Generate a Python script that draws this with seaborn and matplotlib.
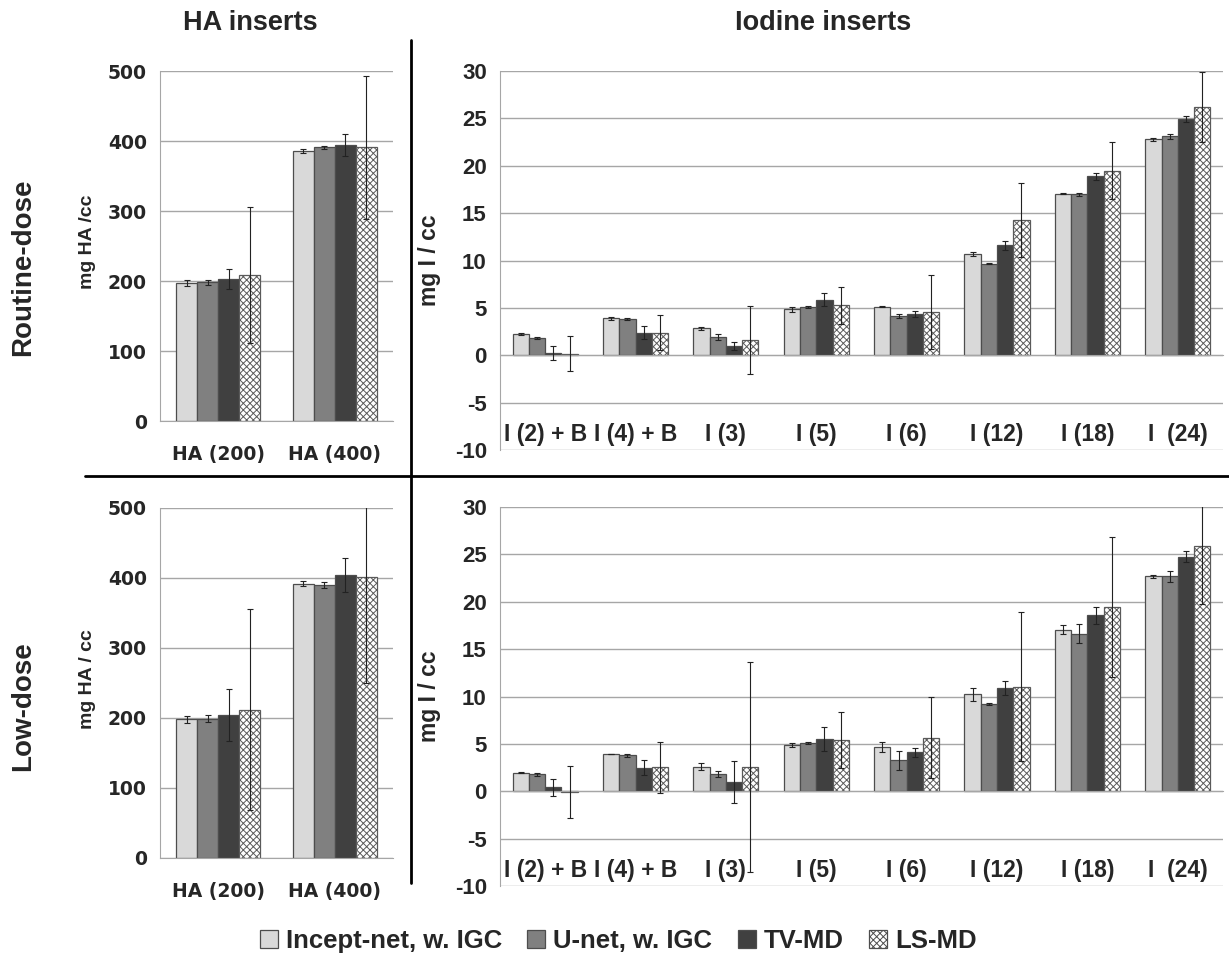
import numpy as np
import pandas as pd
import seaborn as sns
import matplotlib.pyplot as plt
from matplotlib.patches import Patch
from matplotlib.lines import Line2D

methods = ["Incept-net, w. IGC", "U-net, w. IGC", "TV-MD", "LS-MD"]
colors = ["#d9d9d9", "#808080", "#404040", "#ffffff"]

ha_cats = ["HA (200)", "HA (400)"]
io_cats = ["I (2) + B", "I (4) + B", "I (3)", "I (5)", "I (6)", "I (12)", "I (18)", "I  (24)"]

# rows = method, cols = insert (mean and sd)
ha_routine = [[197, 386], [198, 391], [203, 394], [209, 391]]
ha_routine_sd = [[4, 3], [4, 2], [14, 16], [97, 102]]
ha_low = [[198, 392], [199, 390], [204, 404], [212, 402]]
ha_low_sd = [[5, 4], [5, 4], [37, 24], [143, 152]]

io_routine = [
    [2.25, 3.9, 2.85, 4.85, 5.1, 10.7, 17.05, 22.8],
    [1.8, 3.8, 1.9, 5.05, 4.15, 9.65, 17.0, 23.1],
    [0.25, 2.4, 1.0, 5.85, 4.35, 11.6, 18.9, 24.95],
    [0.15, 2.4, 1.65, 5.3, 4.6, 14.3, 19.5, 26.2],
]
io_routine_sd = [
    [0.15, 0.15, 0.15, 0.25, 0.05, 0.2, 0.05, 0.15],
    [0.1, 0.1, 0.3, 0.1, 0.25, 0.05, 0.15, 0.25],
    [0.7, 0.65, 0.4, 0.7, 0.35, 0.45, 0.35, 0.35],
    [1.85, 1.85, 3.6, 1.95, 3.9, 3.9, 3.0, 3.7],
]
io_low = [
    [1.95, 3.95, 2.6, 4.9, 4.65, 10.25, 17.05, 22.7],
    [1.8, 3.8, 1.85, 5.1, 3.25, 9.2, 16.65, 22.7],
    [0.4, 2.5, 0.95, 5.5, 4.1, 10.9, 18.6, 24.75],
    [-0.05, 2.55, 2.55, 5.45, 5.65, 11.05, 19.45, 25.85],
]
io_low_sd = [
    [0.05, 0.02, 0.35, 0.2, 0.5, 0.7, 0.5, 0.15],
    [0.15, 0.15, 0.3, 0.15, 1.0, 0.1, 1.0, 0.6],
    [0.9, 0.8, 2.2, 1.25, 0.5, 0.75, 0.9, 0.6],
    [2.75, 2.7, 11.1, 2.95, 4.3, 7.85, 7.35, 6.1],
]

sns.set_style("white")
plt.rcParams["font.family"] = ["Liberation Sans", "DejaVu Sans"]
plt.rcParams["font.weight"] = "bold"
plt.rcParams["axes.unicode_minus"] = False
plt.rcParams["hatch.color"] = "#5a5a5a"
plt.rcParams["hatch.linewidth"] = 0.7

GRID = "#a6a6a6"
EDGE = "#4d4d4d"
wide = ["DejaVu Sans"]


def draw_panel(ax, cats, vals, sds):
    rows = []
    for i, m in enumerate(methods):
        for j, c in enumerate(cats):
            rows.append((c, m, vals[i][j], sds[i][j]))
    df = pd.DataFrame(rows, columns=["insert", "method", "value", "sd"])
    sns.barplot(data=df, x="insert", y="value", hue="method", order=cats,
                hue_order=methods, palette=colors, width=0.72, gap=0,
                errorbar=None, edgecolor=EDGE, linewidth=0.9, legend=False,
                ax=ax, zorder=2)
    bar_groups = list(ax.containers)
    for i, bars in enumerate(bar_groups):
        sub = df[df.method == methods[i]]
        xs = [b.get_x() + b.get_width() / 2 for b in bars]
        ax.errorbar(xs, sub.value, yerr=sub.sd, fmt="none", ecolor="#222222",
                    elinewidth=0.8, capsize=2.5, capthick=0.8, zorder=3)
        if methods[i] == "LS-MD":
            for b in bars:
                b.set_hatch("xxxxx")
                b.set_edgecolor("#5a5a5a")
    n = len(cats)
    ax.set_xlim(-0.5, n - 0.5)
    ax.set_xticks(np.arange(n))
    ax.set_xticks(np.arange(-0.5, n), minor=True)
    ax.tick_params(axis="x", which="major", length=0)
    ax.tick_params(axis="x", which="minor", length=6, color=GRID, direction="out")
    ax.tick_params(axis="y", length=6, color=GRID)
    ax.grid(axis="y", color=GRID, lw=1)
    ax.set_axisbelow(True)
    for s in ["top", "right"]:
        ax.spines[s].set_visible(False)
    ax.spines["left"].set_color(GRID)
    ax.spines["bottom"].set_color(GRID)
    ax.set_xlabel("")
    ax.set_ylabel("")


def style_ha(ax):
    ax.set_ylim(0, 500)
    ax.set_yticks(range(0, 501, 100))
    ax.set_xticklabels(ha_cats, family=wide, fontsize=13.5, weight="bold")
    ax.tick_params(axis="x", which="major", pad=17)
    for t in ax.get_yticklabels():
        t.set_family(wide)
        t.set_fontsize(13.5)
        t.set_fontweight("bold")


def style_io(ax):
    ax.set_ylim(-10, 30)
    ax.set_yticks(range(-10, 31, 5))
    ax.spines["bottom"].set_position(("data", 0))
    ax.tick_params(axis="x", which="major", labelbottom=False)
    for t in ax.get_yticklabels():
        t.set_fontsize(16)
    for j, c in enumerate(io_cats):
        ax.text(j, -8.4, c, ha="center", va="center", fontsize=16.5, weight="bold")


fig = plt.figure(figsize=(12.29, 9.61), dpi=100)
ax_tl = fig.add_axes([0.1302, 0.5619, 0.1896, 0.3642])
ax_bl = fig.add_axes([0.1302, 0.1072, 0.1896, 0.3642])
ax_tr = fig.add_axes([0.4068, 0.5317, 0.5883, 0.3944])
ax_br = fig.add_axes([0.4068, 0.0780, 0.5883, 0.3944])

draw_panel(ax_tl, ha_cats, ha_routine, ha_routine_sd)
style_ha(ax_tl)
draw_panel(ax_bl, ha_cats, ha_low, ha_low_sd)
style_ha(ax_bl)
draw_panel(ax_tr, io_cats, io_routine, io_routine_sd)
style_io(ax_tr)
draw_panel(ax_br, io_cats, io_low, io_low_sd)
style_io(ax_br)

# separators between the four panels
fig.add_artist(Line2D([0.3344, 0.3344], [0.0812, 0.9584], color="black", lw=2))
fig.add_artist(Line2D([0.069, 1.0], [0.5047, 0.5047], color="black", lw=2))

fig.text(0.2034, 0.976, "HA inserts", ha="center", va="center", fontsize=19.5, weight="bold")
fig.text(0.670, 0.976, "Iodine inserts", ha="center", va="center", fontsize=19.5, weight="bold")
fig.text(0.0187, 0.722, "Routine-dose", rotation=90, ha="center", va="center",
         fontsize=20, weight="bold")
fig.text(0.0187, 0.265, "Low-dose", rotation=90, ha="center", va="center",
         fontsize=20, weight="bold")
fig.text(0.0708, 0.748, "mg HA /cc", rotation=90, ha="center", va="center",
         fontsize=14, weight="bold")
fig.text(0.0708, 0.2935, "mg HA / cc", rotation=90, ha="center", va="center",
         fontsize=14, weight="bold")
fig.text(0.3495, 0.729, "mg I / cc", rotation=90, ha="center", va="center",
         fontsize=16.5, weight="bold")
fig.text(0.3495, 0.276, "mg I / cc", rotation=90, ha="center", va="center",
         fontsize=16.5, weight="bold")

handles = [Patch(facecolor=c, edgecolor=EDGE, lw=0.9, hatch="xxxxx" if m == "LS-MD" else None)
           for m, c in zip(methods, colors)]
fig.legend(handles, methods, loc="center", bbox_to_anchor=(0.503, 0.021), ncol=4,
           frameon=False, handlelength=0.7, handleheight=0.7,
           handletextpad=0.3, columnspacing=1.0, prop={"weight": "bold", "size": 18.5})

fig.savefig("out.png", dpi=100)
